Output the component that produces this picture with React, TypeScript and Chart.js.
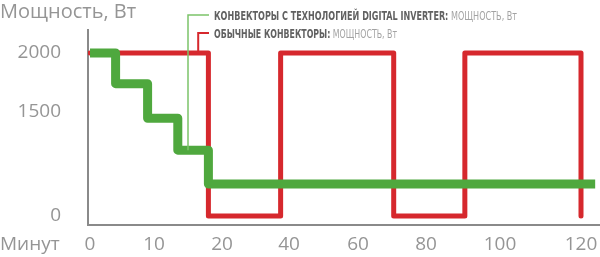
import React, { useEffect, useRef } from 'react';
import { Chart, registerables, LinearScale } from 'chart.js';

// ---------- data ----------
const yTitle = 'Мощность, Вт';
const xTitle = 'Минут';
const xTickValues = [0, 10, 20, 40, 60, 80, 100, 120];
const yTickValues = [0, 1500, 2000];

const greenMinutes = [0, 4, 9, 13.5, 18, 123.5];
const greenPower = [2000, 1740, 1410, 950, 460, 460];
const redMinutes = [0, 18, 37.5, 70.5, 90.5, 120];
const redPower = [2000, 0, 2000, 0, 2000, 0];

const greenLabelBold = 'КОНВЕКТОРЫ С ТЕХНОЛОГИЕЙ DIGITAL INVERTER:';
const greenLabelRest = ' МОЩНОСТЬ, Вт';
const redLabelBold = 'ОБЫЧНЫЕ КОНВЕКТОРЫ:';
const redLabelRest = ' МОЩНОСТЬ, Вт';
const greenAnchor = [15, 950];
const redAnchor = [16.5, 2000];

// ---------- layout (non-uniform axes of the infographic) ----------
const xBreakValues = [0, 10, 20, 40, 60, 80, 100, 120];
const xBreakFractions = [90, 154, 222, 289, 358, 426, 500, 581].map((p) => (p - 88) / 512);
const yBreakValues = [0, 1500, 2000];
const yBreakFractions = [216, 112, 53].map((p) => (225 - p) / 195);
const GREEN_LABEL_WIDTH = 303;
const RED_LABEL_WIDTH = 183;

const RED = '#d6282d';
const GREEN = '#4fa83e';
const GREY = '#959595';
const FONT = '"Open Sans", sans-serif';
const NARROW = '"DejaVu Sans Condensed", "DejaVu Sans", sans-serif';

function interp(v: number, xs: number[], ys: number[]) {
  const n = xs.length;
  let i = 0;
  if (v <= xs[0]) i = 0;
  else if (v >= xs[n - 1]) i = n - 2;
  else {
    while (i < n - 2 && v > xs[i + 1]) i++;
  }
  const t = (v - xs[i]) / (xs[i + 1] - xs[i]);
  return ys[i] + t * (ys[i + 1] - ys[i]);
}

const BREAKS: Record<string, [number[], number[]]> = {
  x: [xBreakValues, xBreakFractions],
  y: [yBreakValues, yBreakFractions],
};

class PiecewiseScale extends LinearScale {
  static id = 'piecewise';
  getPixelForValue(value: number) {
    const [vals, fr] = BREAKS[(this as any).id];
    return this.getPixelForDecimal(interp(value, vals, fr));
  }
  getValueForPixel(pixel: number) {
    const [vals, fr] = BREAKS[(this as any).id];
    return interp(this.getDecimalForPixel(pixel), fr, vals);
  }
}

Chart.register(...registerables, PiecewiseScale as any);

function callout(
  ctx: CanvasRenderingContext2D,
  ax: number,
  ay: number,
  ly: number,
  color: string,
  width: number,
  bold: string,
  rest: string,
  targetWidth: number
) {
  ctx.save();
  ctx.strokeStyle = color;
  ctx.lineWidth = width;
  ctx.beginPath();
  ctx.moveTo(ax, ay);
  ctx.lineTo(ax, ly);
  ctx.lineTo(209, ly);
  ctx.stroke();
  const boldFont = `bold 11.5px ${NARROW}`;
  const restFont = `11.5px ${NARROW}`;
  ctx.font = boldFont;
  const w = ctx.measureText(bold).width;
  ctx.font = restFont;
  const w2 = ctx.measureText(rest).width;
  const k = targetWidth / (w + w2);
  ctx.translate(214, ly + 2);
  ctx.scale(k, 1);
  ctx.textBaseline = 'middle';
  ctx.textAlign = 'left';
  ctx.font = boldFont;
  ctx.fillStyle = '#616161';
  ctx.fillText(bold, 0, 0);
  ctx.font = restFont;
  ctx.fillStyle = '#a3a3a3';
  ctx.fillText(rest, w, 0);
  ctx.restore();
}

const annotPlugin = {
  id: 'annot',
  afterDatasetsDraw(chart: any) {
    const { ctx, scales } = chart;
    const x = scales.x;
    const y = scales.y;
    ctx.save();
    ctx.font = `19px ${FONT}`;
    ctx.fillStyle = GREY;
    ctx.textBaseline = 'middle';
    ctx.textAlign = 'left';
    ctx.fillText(xTitle, 0, 245);
    ctx.restore();
    callout(ctx, x.getPixelForValue(greenAnchor[0]), y.getPixelForValue(greenAnchor[1]), 15, '#7cc36a', 1.5, greenLabelBold, greenLabelRest, GREEN_LABEL_WIDTH);
    callout(ctx, x.getPixelForValue(redAnchor[0]), y.getPixelForValue(redAnchor[1]) - 2, 33, RED, 2, redLabelBold, redLabelRest, RED_LABEL_WIDTH);
  },
};

function noPad(s: any) {
  s.paddingTop = 0;
  s.paddingBottom = 0;
  s.paddingLeft = 0;
  s.paddingRight = 0;
}

export default function App() {
  const ref = useRef<HTMLCanvasElement | null>(null);
  useEffect(() => {
    document.body.style.margin = '0';
    const canvas = ref.current!;
    const tickFont = { family: FONT, size: 19 };
    const chart = new Chart(canvas, {
      type: 'line',
      data: {
        datasets: [
          {
            label: 'green',
            data: greenMinutes.map((m, i) => ({ x: m, y: greenPower[i] })),
            borderColor: GREEN,
            borderWidth: 9,
            stepped: 'before',
            pointRadius: 0,
            fill: false,
            borderJoinStyle: 'round',
          },
          {
            label: 'red',
            data: redMinutes.map((m, i) => ({ x: m, y: redPower[i] })),
            borderColor: RED,
            borderWidth: 5,
            stepped: 'before',
            pointRadius: 0,
            fill: false,
            borderJoinStyle: 'round',
            borderCapStyle: 'round',
          },
        ],
      },
      options: {
        responsive: false,
        animation: false,
        layout: { padding: 0 },
        plugins: {
          legend: { display: false },
          tooltip: { enabled: false },
          title: {
            display: true,
            text: yTitle,
            align: 'start',
            color: GREY,
            font: { family: FONT, size: 20, weight: 'normal' },
            padding: { top: 0, bottom: 6 },
          },
        },
        scales: {
          x: {
            type: 'piecewise' as any,
            min: 0,
            max: 124,
            afterBuildTicks: (s: any) => {
              s.ticks = xTickValues.map((v) => ({ value: v }));
            },
            afterFit: (s: any) => {
              s.height = 32;
              noPad(s);
            },
            grid: { display: false, drawTicks: false },
            border: { display: true, color: '#8a8a8a', width: 2 },
            ticks: {
              autoSkip: false,
              maxRotation: 0,
              padding: 8,
              color: GREY,
              font: tickFont,
              callback: (v: any) => String(v),
            },
          },
          y: {
            type: 'piecewise' as any,
            position: 'left',
            min: 0,
            max: 2200,
            afterBuildTicks: (s: any) => {
              s.ticks = yTickValues.map((v) => ({ value: v }));
            },
            afterFit: (s: any) => {
              s.width = 88;
              noPad(s);
            },
            grid: { display: false, drawTicks: false },
            border: { display: true, color: '#8a8a8a', width: 2 },
            ticks: {
              autoSkip: false,
              padding: 27,
              color: GREY,
              font: tickFont,
              callback: (v: any) => String(v),
            },
          },
        },
      } as any,
      plugins: [annotPlugin],
    });
    return () => chart.destroy();
  }, []);
  return (
    <div style={{ width: 600, height: 257 }}>
      <canvas ref={ref} width={600} height={257} />
    </div>
  );
}
